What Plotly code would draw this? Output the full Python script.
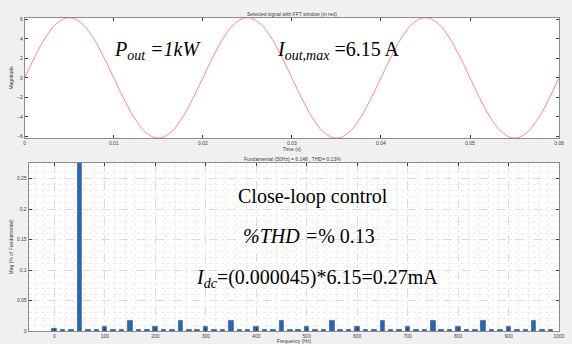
import plotly.graph_objects as go

# ---- top signal (time in s, magnitude in A) ----
time_s = [0.0, 0.00125, 0.0025, 0.00375, 0.005, 0.00625, 0.0075, 0.00875,
          0.01, 0.01125, 0.0125, 0.01375, 0.015, 0.01625, 0.0175, 0.01875,
          0.02, 0.02125, 0.0225, 0.02375, 0.025, 0.02625, 0.0275, 0.02875,
          0.03, 0.03125, 0.0325, 0.03375, 0.035, 0.03625, 0.0375, 0.03875,
          0.04, 0.04125, 0.0425, 0.04375, 0.045, 0.04625, 0.0475, 0.04875,
          0.05, 0.05125, 0.0525, 0.05375, 0.055, 0.05625, 0.0575, 0.05875, 0.06]
magnitude = [0.0, 2.35, 4.35, 5.68, 6.15, 5.68, 4.35, 2.35,
             0.0, -2.35, -4.35, -5.68, -6.15, -5.68, -4.35, -2.35,
             0.0, 2.35, 4.35, 5.68, 6.15, 5.68, 4.35, 2.35,
             0.0, -2.35, -4.35, -5.68, -6.15, -5.68, -4.35, -2.35,
             0.0, 2.35, 4.35, 5.68, 6.15, 5.68, 4.35, 2.35,
             0.0, -2.35, -4.35, -5.68, -6.15, -5.68, -4.35, -2.35, 0.0]

# ---- FFT spectrum (Hz, % of fundamental) ----
freq_hz = [0, 16.67, 33.33, 50, 66.67, 83.33, 100, 116.67, 133.33, 150,
           166.67, 183.33, 200, 216.67, 233.33, 250, 266.67, 283.33, 300, 316.67,
           333.33, 350, 366.67, 383.33, 400, 416.67, 433.33, 450, 466.67, 483.33,
           500, 516.67, 533.33, 550, 566.67, 583.33, 600, 616.67, 633.33, 650,
           666.67, 683.33, 700, 716.67, 733.33, 750, 766.67, 783.33, 800, 816.67,
           833.33, 850, 866.67, 883.33, 900, 916.67, 933.33, 950, 966.67, 983.33]
mag_pct = [0.0045, 0.003, 0.003, 100, 0.003, 0.003, 0.008, 0.003, 0.003, 0.017,
           0.003, 0.003, 0.008, 0.003, 0.003, 0.017, 0.003, 0.003, 0.007, 0.003,
           0.003, 0.017, 0.003, 0.003, 0.007, 0.003, 0.003, 0.017, 0.003, 0.003,
           0.007, 0.003, 0.003, 0.017, 0.003, 0.003, 0.007, 0.003, 0.003, 0.017,
           0.003, 0.003, 0.007, 0.003, 0.003, 0.017, 0.003, 0.003, 0.007, 0.003,
           0.003, 0.017, 0.003, 0.003, 0.007, 0.003, 0.003, 0.017, 0.003, 0.003]

top_xticks = [0, 0.01, 0.02, 0.03, 0.04, 0.05, 0.06]
top_yticks = [-6, -4, -2, 0, 2, 4, 6]
bot_xticks = [0, 100, 200, 300, 400, 500, 600, 700, 800, 900, 1000]
bot_yticks = [0, 0.05, 0.1, 0.15, 0.2, 0.25]

W, H = 572, 344
def px(x):
    return x / W
def py(y):
    return 1 - y / H

fig = go.Figure()
fig.add_trace(go.Scatter(x=time_s, y=magnitude, mode="lines",
                         line=dict(color="rgba(255,70,70,0.65)", width=1, shape="spline", smoothing=1.3),
                         xaxis="x", yaxis="y", showlegend=False))
fig.add_trace(go.Bar(x=freq_hz, y=mag_pct, width=9,
                     marker=dict(color="#2b67b1", line=dict(color="#1c3f6e", width=0.5)),
                     xaxis="x2", yaxis="y2", showlegend=False))

tickfont = dict(family="Liberation Sans, Arial", size=5, color="#404040")
axline = "#8c8c8c"

fig.update_layout(
    width=W, height=H,
    margin=dict(l=0, r=0, t=0, b=0),
    paper_bgcolor="#f0f0f0", plot_bgcolor="white",
    font=dict(family="Liberation Sans, Arial", size=5, color="#404040"),
    xaxis=dict(domain=[px(24), px(565)], range=[0, 0.06], tickvals=top_xticks,
               ticktext=["0", "0.01", "0.02", "0.03", "0.04", "0.05", "0.06"],
               ticks="inside", ticklen=3, tickcolor="#404040", mirror="ticks",
               showline=True, linecolor=axline, linewidth=1, showgrid=False, zeroline=False,
               tickfont=tickfont, anchor="y",
               title=dict(text="Time (s)", font=tickfont, standoff=2)),
    yaxis=dict(domain=[py(138), py(16)], range=[-6.15, 6.15], tickvals=top_yticks,
               ticks="inside", ticklen=3, tickcolor="#404040", mirror="ticks",
               showline=True, linecolor=axline, linewidth=1, showgrid=False, zeroline=False,
               tickfont=tickfont, anchor="x",
               title=dict(text="Magnitude", font=tickfont, standoff=3)),
    xaxis2=dict(domain=[px(28), px(565)], range=[-51, 1000], tickvals=bot_xticks,
                ticks="inside", ticklen=3, tickcolor="#404040", mirror="ticks",
                showline=True, linecolor=axline, linewidth=1,
                showgrid=True, gridcolor="#dcdcdc", griddash="dash", gridwidth=0.6,
                minor=dict(dtick=20, showgrid=True, gridcolor="#ececec", griddash="dot", gridwidth=0.6),
                zeroline=False, tickfont=tickfont, anchor="y2",
                title=dict(text="Frequency (Hz)", font=tickfont, standoff=1)),
    yaxis2=dict(domain=[py(334), py(163)], range=[0, 0.276], tickvals=bot_yticks,
                ticktext=["0", "0.05", "0.1", "0.15", "0.2", "0.25"],
                ticks="inside", ticklen=3, tickcolor="#404040", mirror="ticks",
                showline=True, linecolor=axline, linewidth=1,
                showgrid=True, gridcolor="#dcdcdc", griddash="dash", gridwidth=0.6,
                minor=dict(dtick=0.01, showgrid=True, gridcolor="#ececec", griddash="dot", gridwidth=0.6),
                zeroline=False, tickfont=tickfont, anchor="x2",
                title=dict(text="Mag (% of Fundamental)", font=tickfont, standoff=3)),
    bargap=0,
)

serif = dict(family="Liberation Serif, Times New Roman", size=20, color="black")
anns = [
    dict(text="Selected signal with FFT window (in red)", x=px(295), y=py(12), font=tickfont),
    dict(text="Fundamental (50Hz) = 6.148 , THD= 0.13%", x=px(295), y=py(159), font=tickfont),
    dict(text="<i>P</i><sub><i>out</i></sub><i> =1kW</i>", x=px(112), y=py(49), xanchor="left", font=serif),
    dict(text="<i>I</i><sub><i>out,max</i></sub> =6.15 A", x=px(277), y=py(49), xanchor="left", font=serif),
    dict(text="Close-loop control", x=px(238), y=py(197), xanchor="left", font=serif),
    dict(text="<i>%THD =</i>% 0.13", x=px(243), y=py(237), xanchor="left", font=serif),
    dict(text="<i>I</i><sub><i>dc</i></sub>=(0.000045)*6.15=0.27mA", x=px(195), y=py(281), xanchor="left", font=serif),
]
for a in anns:
    a.setdefault("xanchor", "center")
    fig.add_annotation(xref="paper", yref="paper", showarrow=False, yanchor="middle", **a)

fig.write_html("out.html", config={"displayModeBar": False},
               post_script="document.body.style.margin='0';document.body.style.padding='0';document.body.style.overflow='hidden';")
